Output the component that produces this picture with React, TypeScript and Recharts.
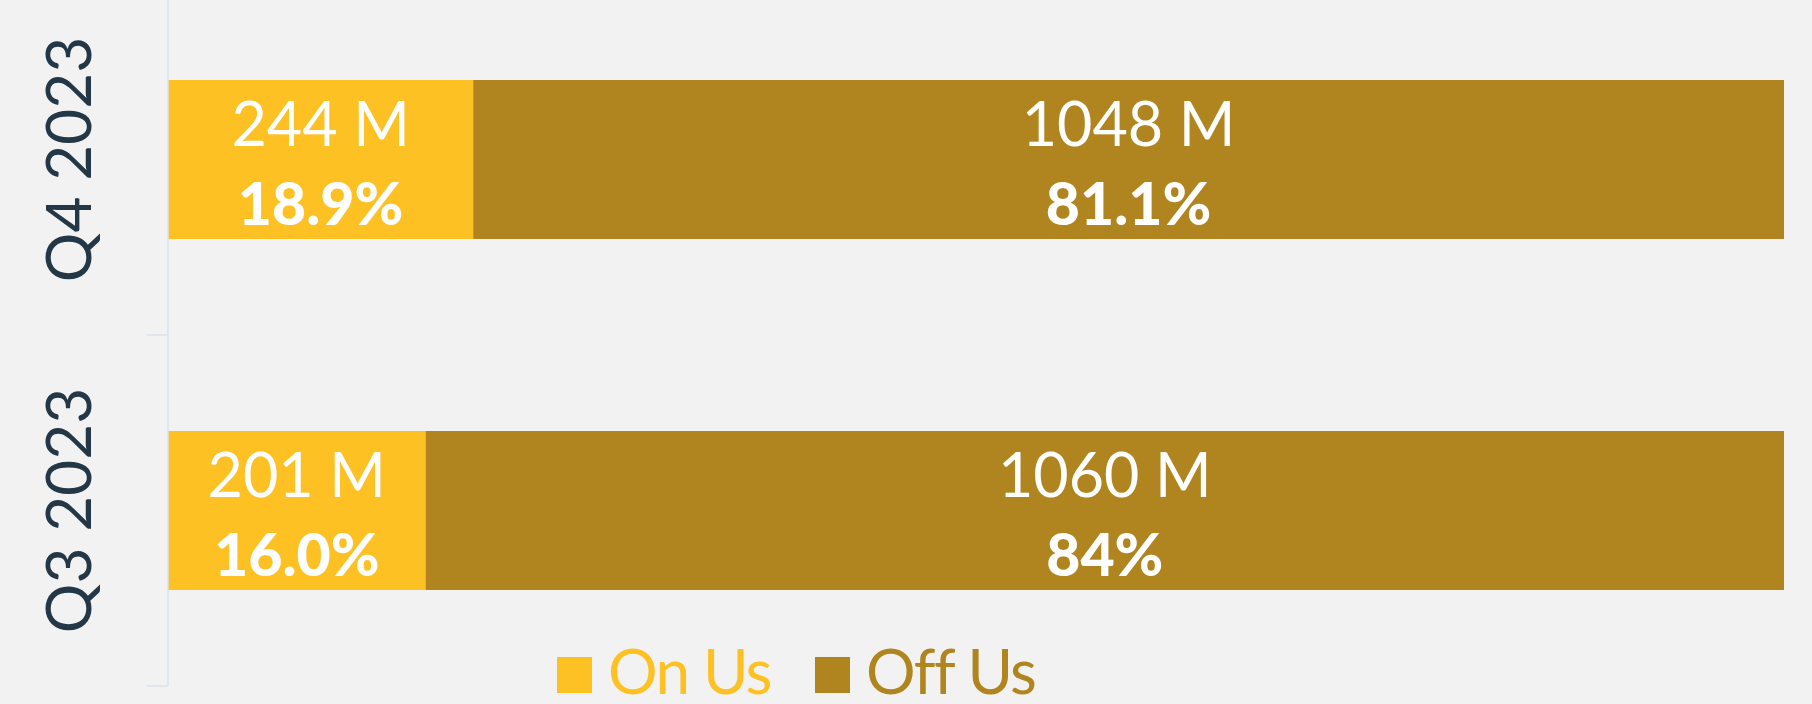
import { BarChart, Bar, XAxis, YAxis, LabelList, Legend } from "recharts"

const quarters = ["Q4 2023", "Q3 2023"]
const onUs = [244, 201]
const offUs = [1048, 1060]
const onUsPct = ["18.9%", "16.0%"]
const offUsPct = ["81.1%", "84%"]
const seriesNames = ["On Us", "Off Us"]

const data = quarters.map((name, i) => ({
  name,
  onUs: onUs[i],
  offUs: offUs[i],
  onUsPct: onUsPct[i],
  offUsPct: offUsPct[i],
}))

const ON_COLOR = "#FEC124"
const OFF_COLOR = "#B0851F"
const AXIS_COLOR = "#D8E2EB"
const FONT = "Lato, 'Noto Sans', sans-serif"

function box(props: any) {
  const vb = props.viewBox ?? props
  return { x: Number(vb.x), y: Number(vb.y), width: Number(vb.width), height: Number(vb.height) }
}

const ValueLine = (props: any) => {
  const { x, y, width, height } = box(props)
  return (
    <text x={x + width / 2} y={y + height / 2 - 14} textAnchor="middle" fill="#fff" fontSize={61} fontWeight={400} fontFamily={FONT}>
      {props.value} M
    </text>
  )
}

const PctLine = (props: any) => {
  const { x, y, width, height } = box(props)
  return (
    <text x={x + width / 2} y={y + height / 2 + 65} textAnchor="middle" fill="#fff" fontSize={59} fontWeight={900} fontFamily={FONT}>
      {props.value}
    </text>
  )
}

const QuarterTick = (props: any) => {
  const { x, y, payload } = props
  const half = payload.offset ?? 0
  return (
    <g>
      <text transform={`translate(${x - 56}, ${y}) rotate(-90)`} textAnchor="middle" fontSize={62} fill="#233746" fontFamily={FONT}>
        {payload.value}
      </text>
      <line x1={x} x2={x + 21} y1={y + half} y2={y + half} stroke={AXIS_COLOR} strokeWidth={1.5} />
    </g>
  )
}

const renderLegend = (props: any) => {
  const items = [...(props.payload ?? [])].sort(
    (a: any, b: any) => seriesNames.indexOf(a.value) - seriesNames.indexOf(b.value)
  )
  return (
    <div style={{ display: "flex", alignItems: "flex-start" }}>
      {items.map((e: any) => (
        <div key={e.value} style={{ display: "flex", alignItems: "flex-start", marginRight: 44 }}>
          <span style={{ width: 35, height: 36, background: e.color, marginTop: 15, marginRight: 16 }} />
          <span
            style={{
              display: "inline-block",
              height: 56,
              fontSize: 62,
              lineHeight: "56px",
              letterSpacing: -1.5,
              color: e.color,
              fontFamily: FONT,
              whiteSpace: "nowrap",
            }}
          >
            {e.value}
          </span>
        </div>
      ))}
    </div>
  )
}

export default function App() {
  return (
    <div style={{ position: "absolute", left: 0, top: 0, width: 1812, height: 704, background: "#F2F2F2", overflow: "hidden" }}>
      <div style={{ position: "absolute", left: 0, top: -16 }}>
        <BarChart
          width={1812}
          height={720}
          data={data}
          layout="vertical"
          stackOffset="expand"
          barSize={159}
          margin={{ top: 0, right: 28, left: 0, bottom: 18 }}
        >
          <XAxis type="number" hide />
          <YAxis
            type="category"
            dataKey="name"
            width={168}
            tickSize={21}
            tickMargin={0}
            tickLine={false}
            axisLine={{ stroke: AXIS_COLOR, strokeWidth: 1.5 }}
            tick={<QuarterTick />}
          />
          <Legend
            verticalAlign="middle"
            align="center"
            layout="horizontal"
            wrapperStyle={{ top: 658, left: 557, width: "auto" }}
            content={renderLegend}
          />
          <Bar dataKey="onUs" name={seriesNames[0]} stackId="a" fill={ON_COLOR} isAnimationActive={false}>
            <LabelList dataKey="onUs" content={<ValueLine />} />
            <LabelList dataKey="onUsPct" content={<PctLine />} />
          </Bar>
          <Bar dataKey="offUs" name={seriesNames[1]} stackId="a" fill={OFF_COLOR} isAnimationActive={false}>
            <LabelList dataKey="offUs" content={<ValueLine />} />
            <LabelList dataKey="offUsPct" content={<PctLine />} />
          </Bar>
        </BarChart>
      </div>
    </div>
  )
}
